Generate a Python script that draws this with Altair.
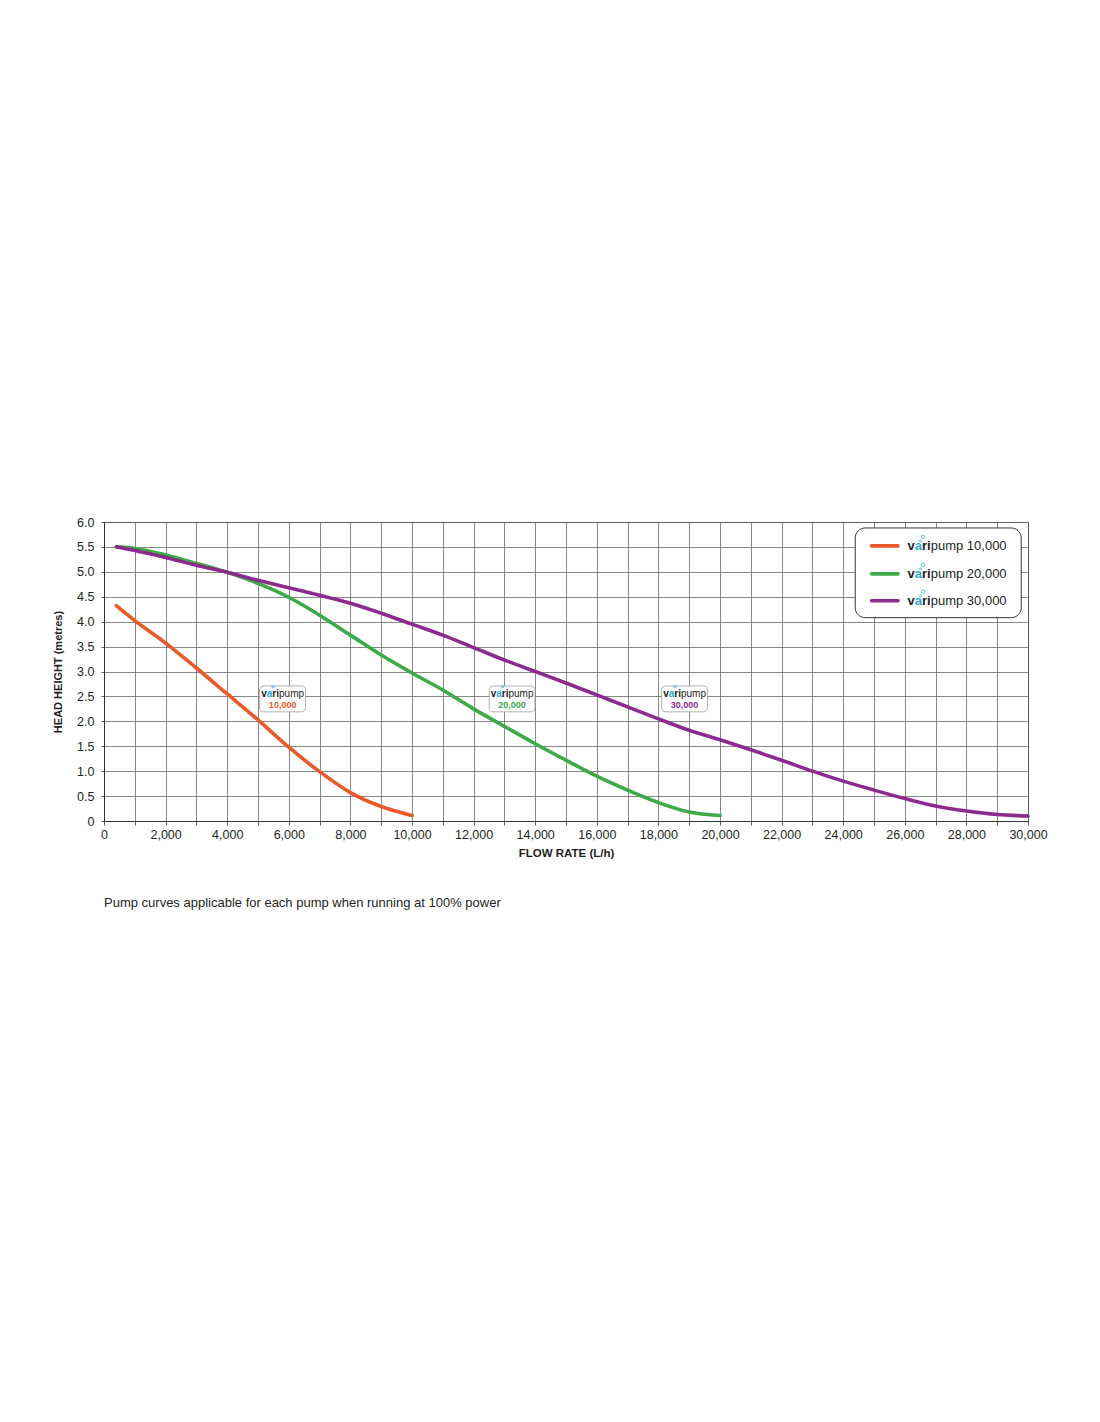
import altair as alt
import pandas as pd

# ---------------- data ----------------
series_names = ["varipump 10,000", "varipump 20,000", "varipump 30,000"]
series_colors = ["#E9592A", "#3BAA47", "#8C2B8E"]

orange_x = [400, 1000, 2000, 3000, 4000, 5000, 6000, 7000, 8000, 9000, 10000]
orange_y = [4.32, 4.02, 3.57, 3.07, 2.55, 2.03, 1.48, 0.99, 0.57, 0.29, 0.11]

green_x = [400] + list(range(1000, 20001, 1000))
green_y = [5.50, 5.47, 5.34, 5.17, 4.99, 4.77, 4.49, 4.13, 3.73, 3.33, 2.97,
           2.63, 2.25, 1.90, 1.55, 1.22, 0.90, 0.62, 0.37, 0.18, 0.11]

purple_x = [400] + list(range(1000, 30001, 1000))
purple_y = [5.50, 5.43, 5.29, 5.13, 4.99, 4.83, 4.68, 4.53, 4.37, 4.17, 3.95,
            3.73, 3.48, 3.23, 3.00, 2.77, 2.53, 2.29, 2.05, 1.82, 1.63,
            1.43, 1.22, 1.00, 0.80, 0.62, 0.45, 0.30, 0.20, 0.13, 0.10]

x_ticks = list(range(0, 30001, 1000))
y_ticks = [i * 0.5 for i in range(13)]

# in-chart labels (centre in data units)
ann_x = [5800, 13250, 18850]
ann_y = [2.45, 2.45, 2.45]
ann_num = ["10,000", "20,000", "30,000"]

# custom legend (data units)
legend_box_x = [24390, 29780]
legend_box_y = [4.08, 5.88]
legend_swatch_x = [24920, 25780]
legend_row_y = [5.52, 4.96, 4.42]
legend_text_x = 26090
legend_num = ["10,000", "20,000", "30,000"]

caption = "Pump curves applicable for each pump when running at 100% power"

# ---------------- frames ----------------
rows = []
for name, xs_, ys_ in zip(series_names, [orange_x, green_x, purple_x], [orange_y, green_y, purple_y]):
    for i, (a, b) in enumerate(zip(xs_, ys_)):
        rows.append({"series": name, "flow": a, "head": b, "order": i})
curves = pd.DataFrame(rows)

ann = pd.DataFrame({"series": series_names, "x": ann_x, "y": ann_y, "num": ann_num})
ann["x1"] = ann["x"] - 745
ann["x2"] = ann["x"] + 745
ann["y1"] = ann["y"] - 0.26
ann["y2"] = ann["y"] + 0.26

leg = pd.DataFrame({"series": series_names, "y": legend_row_y, "num": legend_num})
leg["sx1"] = legend_swatch_x[0]
leg["sx2"] = legend_swatch_x[1]
leg["tx"] = legend_text_x
leg["rest"] = "pump " + leg["num"]

legbox = pd.DataFrame({"x1": [legend_box_x[0]], "x2": [legend_box_x[1]],
                       "y1": [legend_box_y[0]], "y2": [legend_box_y[1]]})

color_scale = alt.Scale(domain=series_names, range=series_colors)
XS = alt.Scale(domain=[0, 30000], nice=False)
YS = alt.Scale(domain=[0, 6], nice=False)

FONT = "Liberation Sans"
BLUE = "#29A9E0"
DARK = "#231F20"

x_axis = alt.Axis(values=x_ticks, labelExpr="datum.value % 2000 == 0 ? format(datum.value, ',') : ''",
                  title="FLOW RATE (L/h)", titleFontWeight="bold", titleFontSize=11.5,
                  titlePadding=7, tickSize=4, labelPadding=3, labelFlush=False, grid=True)
y_axis = alt.Axis(values=y_ticks, labelExpr="datum.value == 0 ? '0' : format(datum.value, '.1f')",
                  title="HEAD HEIGHT (metres)", titleFontWeight="bold", titleFontSize=11,
                  titlePadding=13, tickSize=3, labelPadding=7, labelFlush=False, grid=True)


def X(field):
    return alt.X(f"{field}:Q", scale=XS, axis=x_axis)


def Y(field):
    return alt.Y(f"{field}:Q", scale=YS, axis=y_axis)


def X2(field):
    return alt.X2(f"{field}:Q")


def Y2(field):
    return alt.Y2(f"{field}:Q")


lines = alt.Chart(curves).mark_line(strokeWidth=3.6, interpolate="monotone", strokeCap="round").encode(
    x=X("flow"), y=Y("head"),
    color=alt.Color("series:N", scale=color_scale, legend=None),
    order="order:Q",
    detail="series:N",
)

# annotation boxes
abox = alt.Chart(ann).mark_rect(fill="white", stroke="#9a9a9a", strokeWidth=0.8, cornerRadius=4).encode(
    x=X("x1"), x2=X2("x2"), y=Y("y1"), y2=Y2("y2"))


def piece(df, text, dx, dy, size, weight, color, xfield="x", yfield="y"):
    return alt.Chart(df).mark_text(align="left", baseline="middle", dx=dx, dy=dy, fontSize=size,
                                   fontWeight=weight, font=FONT, color=color).encode(
        x=X(xfield), y=Y(yfield), text=alt.value(text))


def bubble(df, dx, dy, size, xfield="x", yfield="y"):
    return alt.Chart(df).mark_point(shape="circle", filled=False, color=BLUE, strokeWidth=0.8,
                                    size=size, xOffset=dx, yOffset=dy, opacity=0.9).encode(
        x=X(xfield), y=Y(yfield))


a_v = piece(ann, "v", -21.4, -5, 10, "bold", DARK)
a_a = piece(ann, "a", -15.8, -5, 10, "bold", BLUE)
a_ri = piece(ann, "ri", -10.3, -5, 10, "bold", DARK)
a_p = piece(ann, "pump", -3.6, -5, 10, "normal", DARK)
a_b = bubble(ann, -9.6, -12.0, 5)
a_num = alt.Chart(ann).mark_text(align="center", baseline="middle", dy=6, fontSize=9,
                                 fontWeight="bold", font=FONT).encode(
    x=X("x"), y=Y("y"), text="num:N", color=alt.Color("series:N", scale=color_scale, legend=None))

# custom legend
lbox = alt.Chart(legbox).mark_rect(fill="white", stroke="#333333", strokeWidth=1, cornerRadius=10).encode(
    x=X("x1"), x2=X2("x2"), y=Y("y1"), y2=Y2("y2"))
lsw = alt.Chart(leg).mark_rule(strokeWidth=3.6, strokeCap="round").encode(
    x=X("sx1"), x2=X2("sx2"), y=Y("y"), color=alt.Color("series:N", scale=color_scale, legend=None))
l_v = piece(leg, "v", 0, 0, 13, "bold", DARK, xfield="tx")
l_a = piece(leg, "a", 7.23, 0, 13, "bold", BLUE, xfield="tx")
l_ri = piece(leg, "ri", 14.46, 0, 13, "bold", DARK, xfield="tx")
l_b1 = bubble(leg, 15.5, -9.0, 12, xfield="tx")
l_b2 = bubble(leg, 13.0, -5.0, 4, xfield="tx")
l_rest = alt.Chart(leg).mark_text(align="left", baseline="middle", dx=23.13, fontSize=13,
                                  font=FONT, color=DARK).encode(x=X("tx"), y=Y("y"), text="rest:N")

chart = alt.layer(
    lines, abox, a_v, a_a, a_ri, a_p, a_b, a_num, lbox, lsw, l_v, l_a, l_ri, l_b1, l_b2, l_rest
).properties(
    width=924, height=299,
    background="white",
    autosize=alt.AutoSizeParams(type="none"),
    padding={"left": 96, "top": 514, "right": 50, "bottom": 200},
    title=alt.TitleParams(caption, orient="bottom", anchor="start", frame="group",
                          fontSize=13, fontWeight="normal", color=DARK, font=FONT, offset=38),
).configure_view(
    stroke="#333333", strokeWidth=1
).configure_axis(
    labelFont=FONT, titleFont=FONT, labelFontSize=12.5, labelColor=DARK, titleColor=DARK,
    gridColor="#6a6a6a", gridWidth=0.8, gridOpacity=1,
    domainColor="#333333", domainWidth=1, tickColor="#333333", tickWidth=0.8,
)

chart.save("out.html", embed_options={"renderer": "svg", "actions": False})
